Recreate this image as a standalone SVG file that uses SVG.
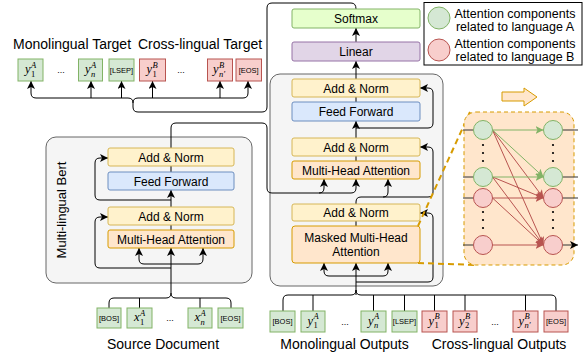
<svg xmlns="http://www.w3.org/2000/svg" width="587" height="358" viewBox="0 0 587 358">
<defs>
<marker id="ak" markerUnits="userSpaceOnUse" markerWidth="9" markerHeight="8" refX="8" refY="4" orient="auto"><path d="M0,0 L8,4 L0,8 L2,4 z" fill="#000"/></marker>
<marker id="ag" markerUnits="userSpaceOnUse" markerWidth="9" markerHeight="8" refX="8" refY="4" orient="auto"><path d="M0,0 L8,4 L0,8 L2,4 z" fill="#82b366"/></marker>
<marker id="ar" markerUnits="userSpaceOnUse" markerWidth="9" markerHeight="8" refX="8" refY="4" orient="auto"><path d="M0,0 L8,4 L0,8 L2,4 z" fill="#b85450"/></marker>
<style>
.panel{fill:#f5f5f5;stroke:#666;stroke-width:1}
.an{fill:#fff2cc;stroke:#d6b656}
.ff{fill:#dae8fc;stroke:#6c8ebf}
.mha{fill:#ffe6cc;stroke:#d79b00}
.lin{fill:#e1d5e7;stroke:#9673a6}
.sm{fill:#e6ffcc;stroke:#82b366}
.tg{fill:#d5e8d4;stroke:#82b366}
.tr{fill:#f8cecc;stroke:#b85450}
.lbl{font-family:"Liberation Sans",Arial,sans-serif;font-size:12px;fill:#000;text-anchor:middle}
.big{font-family:"Liberation Sans",Arial,sans-serif;font-size:14px;fill:#000}
.leg{font-family:"Liberation Sans",Arial,sans-serif;font-size:12.5px;fill:#000;text-anchor:middle}
.tok{font-family:"Liberation Sans",Arial,sans-serif;font-size:7.5px;fill:#000;text-anchor:middle}
.dots{font-family:"Liberation Sans",Arial,sans-serif;font-size:9px;fill:#000;text-anchor:middle}
.mi{font-family:"Liberation Serif","Times New Roman",serif;font-style:italic;font-size:12.5px;fill:#000}
.sc{font-size:8.5px}
.up{font-style:normal}
.c{fill:none;stroke:#000;stroke-width:1}
.ca{fill:none;stroke:#000;stroke-width:1;marker-end:url(#ak)}
.dash{fill:none;stroke:#d79b00;stroke-width:2;stroke-dasharray:6 4}
.eg{fill:none;stroke:#82b366;stroke-width:1;marker-end:url(#ag)}
.er{fill:none;stroke:#b85450;stroke-width:1;marker-end:url(#ar)}
.dk{fill:none;stroke:#333;stroke-width:1}
.dka{fill:none;stroke:#333;stroke-width:1;marker-end:url(#ak)}
</style>
</defs>

<g id="encoder-panel">
<rect class="panel" x="46" y="137" width="206" height="146" rx="10"/>
<text class="big" transform="translate(66,210) rotate(-90)" text-anchor="middle" style="font-size:13px">Multi-lingual Bert</text>
</g>
<g id="decoder-panel">
<rect class="panel" x="270" y="74" width="173" height="212" rx="10"/>
</g>

<g id="connectors">
<!-- softmax output to targets -->
<path class="c" d="M356,9 Q356,3 351,3 H272 Q267,3 267,8 V107 Q267,112 262,112 H138 Q133,112 133,107 V103"/>
<path class="ca" d="M133,103 Q133,98 128,98 H36 Q31,98 31,93 V81"/>
<path class="ca" d="M133,103 Q133,98 138,98 H243 Q248,98 248,93 V81"/>
<path class="ca" d="M91,98 V81"/>
<path class="ca" d="M121.5,98 V81"/>
<path class="ca" d="M152.5,98 V81"/>
<path class="ca" d="M220,98 V81"/>
<!-- source input -->
<path class="c" d="M171,293 Q171,298 166,298 H114 Q109,298 109,303 V308"/>
<path class="c" d="M171,293 Q171,298 176,298 H226 Q231,298 231,303 V308"/>
<path class="c" d="M139.5,298 V308"/>
<path class="c" d="M200,298 V308"/>
<path class="ca" d="M171,293 V248"/>
<path class="ca" d="M171,264 H144 Q139,264 139,259 V248"/>
<path class="ca" d="M171,264 H198 Q203,264 203,259 V248"/>
<path class="ca" d="M171,268 H100 Q95,268 95,263 V222 Q95,217 100,217 H108"/>
<path class="c" d="M171,225 V230"/>
<path class="ca" d="M171,207 V190"/>
<path class="ca" d="M171,200 H100 Q95,200 95,195 V163 Q95,158 100,158 H108"/>
<path class="c" d="M171,166 V172"/>
<!-- encoder output to decoder cross attention -->
<path class="ca" d="M171,148 V128 Q171,123 176,123 H262 Q267,123 267,128 V188 Q267,193 272,193 H319 Q324,193 324,188 V179"/>
<path class="ca" d="M319,193 H351 Q356,193 356,188 V179"/>
<!-- decoder -->
<path class="ca" d="M356,295 V263"/>
<path class="ca" d="M356,276 H329 Q324,276 324,271 V263"/>
<path class="ca" d="M356,276 H383 Q388,276 388,271 V263"/>
<path class="ca" d="M356,282 H428 Q433,282 433,277 V218 Q433,213 428,213 H420"/>
<path class="c" d="M356,221 V226"/>
<path class="ca" d="M356,204 V202 Q356,197 361,197 H428 Q433,197 433,192 V152 Q433,147 428,147 H420"/>
<path class="ca" d="M383,197 Q388,197 388,192 V179"/>
<path class="c" d="M356,156 V161"/>
<path class="ca" d="M356,138 V121"/>
<path class="ca" d="M356,128 H428 Q433,128 433,123 V93 Q433,88 428,88 H420"/>
<path class="c" d="M356,97 V102"/>
<path class="ca" d="M356,79 V61"/>
<path class="ca" d="M356,42 V28"/>
<!-- outputs brace -->
<path class="c" d="M356,290 Q356,295 351,295 H288 Q283,295 283,300 V311"/>
<path class="c" d="M356,290 Q356,295 361,295 H551 Q556,295 556,300 V311"/>
<path class="c" d="M313,295 V311 M373.5,295 V311 M404.5,295 V311 M434.5,295 V311 M465,295 V311 M525.5,295 V311"/>
<!-- zoom dashed lines -->
<path class="dash" d="M418,226 L470,112"/>
<path class="dash" d="M418,263 L477,265"/>
</g>

<g id="enc-addnorm2"><rect class="an" x="108" y="148" width="126" height="18" rx="2"/><text class="lbl" x="171" y="161.5">Add &amp; Norm</text></g>
<g id="enc-ff"><rect class="ff" x="108" y="172" width="126" height="18" rx="2"/><text class="lbl" x="171" y="185.5">Feed Forward</text></g>
<g id="enc-addnorm1"><rect class="an" x="108" y="207" width="126" height="18" rx="2"/><text class="lbl" x="171" y="220.5">Add &amp; Norm</text></g>
<g id="enc-mha"><rect class="mha" x="108" y="230" width="126" height="18" rx="2"/><text class="lbl" x="171" y="243.5">Multi-Head Attention</text></g>

<g id="dec-softmax"><rect class="sm" x="292" y="9" width="128" height="19" rx="2"/><text class="lbl" x="356" y="22.5">Softmax</text></g>
<g id="dec-linear"><rect class="lin" x="292" y="42" width="128" height="19" rx="2"/><text class="lbl" x="356" y="55.5">Linear</text></g>
<g id="dec-addnorm3"><rect class="an" x="292" y="79" width="128" height="18" rx="2"/><text class="lbl" x="356" y="92.5">Add &amp; Norm</text></g>
<g id="dec-ff"><rect class="ff" x="292" y="102" width="128" height="19" rx="2"/><text class="lbl" x="356" y="115.5">Feed Forward</text></g>
<g id="dec-addnorm2"><rect class="an" x="292" y="138" width="128" height="18" rx="2"/><text class="lbl" x="356" y="151.5">Add &amp; Norm</text></g>
<g id="dec-mha"><rect class="mha" x="292" y="161" width="128" height="18" rx="2"/><text class="lbl" x="356" y="174.5">Multi-Head Attention</text></g>
<g id="dec-addnorm1"><rect class="an" x="292" y="204" width="128" height="17" rx="2"/><text class="lbl" x="356" y="217">Add &amp; Norm</text></g>
<g id="dec-masked"><rect class="mha" x="292" y="226" width="128" height="37" rx="3"/><text class="lbl" x="356" y="242">Masked Multi-Head</text><text class="lbl" x="356" y="256">Attention</text></g>

<g id="legend">
<rect x="424" y="2.5" width="158" height="62.5" fill="none" stroke="#000"/>
<circle cx="439" cy="18" r="11" fill="#d5e8d4" stroke="#82b366"/>
<circle cx="439" cy="50" r="11" fill="#f8cecc" stroke="#b85450"/>
<text class="leg" x="515" y="17.5">Attention components</text>
<text class="leg" x="515" y="31">related to language A</text>
<text class="leg" x="515" y="47.5">Attention components</text>
<text class="leg" x="515" y="61">related to language B</text>
</g>

<g id="zoom-arrow"><polygon points="502,92 524,92 524,88 537,97 524,106 524,101 502,101" fill="#ffe6cc" stroke="#d79b00"/></g>

<g id="attention-detail">
<rect x="464" y="112" width="110" height="153" rx="12" fill="#ffe6cc" stroke="#d79b00" stroke-dasharray="4 3"/>
<path class="dk" d="M463,130 H473.5 M463,177 H473.5 M463,198 H473.5 M463,245 H473.5"/>
<path class="dka" d="M562.5,130 H578 M562.5,177 H578 M562.5,198 H578 M562.5,245 H578"/>
<path class="er" d="M492.5,130 L543.5,198"/>
<path class="er" d="M492.5,130 L543.5,245"/>
<path class="er" d="M492.5,177 L543.5,198"/>
<path class="er" d="M492.5,177 L543.5,245"/>
<path class="er" d="M492.5,198 L543.5,198"/>
<path class="er" d="M492.5,198 L543.5,245"/>
<path class="er" d="M492.5,245 L543.5,245"/>
<path class="eg" d="M492.5,130 L543.5,130"/>
<path class="eg" d="M492.5,130 L543.5,177"/>
<path class="eg" d="M492.5,177 L543.5,177"/>
<g fill="#d5e8d4" stroke="#82b366"><circle cx="483" cy="130" r="9.5"/><circle cx="483" cy="177" r="9.5"/><circle cx="553" cy="130" r="9.5"/><circle cx="553" cy="177" r="9.5"/></g>
<g fill="#f8cecc" stroke="#b85450"><circle cx="483" cy="198" r="9.5"/><circle cx="483" cy="245" r="9.5"/><circle cx="553" cy="198" r="9.5"/><circle cx="553" cy="245" r="9.5"/></g>
<g fill="#000"><circle cx="483" cy="145" r="1.1"/><circle cx="483" cy="153" r="1.1"/><circle cx="483" cy="161" r="1.1"/><circle cx="553" cy="145" r="1.1"/><circle cx="553" cy="153" r="1.1"/><circle cx="553" cy="161" r="1.1"/><circle cx="483" cy="212" r="1.1"/><circle cx="483" cy="220" r="1.1"/><circle cx="483" cy="228" r="1.1"/><circle cx="553" cy="212" r="1.1"/><circle cx="553" cy="220" r="1.1"/><circle cx="553" cy="228" r="1.1"/></g>
</g>

<g id="target-labels">
<text class="big" x="13" y="49">Monolingual Target</text>
<text class="big" x="138" y="49">Cross-lingual Target</text>
</g>
<g id="target-tokens">
<g id="t-y1A"><rect class="tg" x="18" y="59" width="25" height="22"/><text class="mi" y="73"><tspan x="25">y</tspan><tspan class="sc" x="31" y="67.5">A</tspan><tspan class="sc up" x="31" y="76.5">1</tspan></text></g>
<text class="dots" x="61" y="73">...</text>
<g id="t-ynA"><rect class="tg" x="78.5" y="59" width="24" height="22"/><text class="mi" y="73"><tspan x="85">y</tspan><tspan class="sc" x="91" y="67.5">A</tspan><tspan class="sc" x="91" y="76.5">n</tspan></text></g>
<g id="t-lsep"><rect class="tg" x="109" y="59" width="25" height="22"/><text class="tok" x="121.5" y="72.5">[LSEP]</text></g>
<g id="t-y1B"><rect class="tr" x="139.5" y="59" width="26" height="22"/><text class="mi" y="73"><tspan x="146.5">y</tspan><tspan class="sc" x="152.5" y="67.5">B</tspan><tspan class="sc up" x="152.5" y="76.5">1</tspan></text></g>
<text class="dots" x="181" y="73">...</text>
<g id="t-ynB"><rect class="tr" x="207.5" y="59" width="25" height="22"/><text class="mi" y="73"><tspan x="213">y</tspan><tspan class="sc" x="219" y="67.5">B</tspan><tspan class="sc" x="219" y="76.5">n′</tspan></text></g>
<g id="t-eos"><rect class="tr" x="236" y="59" width="25.5" height="22"/><text class="tok" x="248.7" y="72.5">[EOS]</text></g>
</g>

<g id="source-tokens">
<g id="s-bos"><rect class="tg" x="97" y="308" width="24" height="20"/><text class="tok" x="109" y="320.5">[BOS]</text></g>
<g id="s-x1A"><rect class="tg" x="127" y="308" width="25" height="20"/><text class="mi" y="321"><tspan x="134">x</tspan><tspan class="sc" x="140" y="315.5">A</tspan><tspan class="sc up" x="140" y="324.5">1</tspan></text></g>
<text class="dots" x="170" y="321">...</text>
<g id="s-xnA"><rect class="tg" x="188" y="308" width="24" height="20"/><text class="mi" y="321"><tspan x="194.5">x</tspan><tspan class="sc" x="200.5" y="315.5">A</tspan><tspan class="sc" x="200.5" y="324.5">n</tspan></text></g>
<g id="s-eos"><rect class="tg" x="218" y="308" width="25" height="20"/><text class="tok" x="230.5" y="320.5">[EOS]</text></g>
<text class="big" x="163" y="348.5" text-anchor="middle">Source Document</text>
</g>

<g id="output-tokens">
<g id="o-bos"><rect class="tg" x="270" y="311" width="25" height="21"/><text class="tok" x="282.5" y="324">[BOS]</text></g>
<g id="o-y1A"><rect class="tg" x="301" y="311" width="24" height="21"/><text class="mi" y="324.5"><tspan x="307.5">y</tspan><tspan class="sc" x="313.5" y="319">A</tspan><tspan class="sc up" x="313.5" y="328">1</tspan></text></g>
<text class="dots" x="345" y="324.5">...</text>
<g id="o-ynA"><rect class="tg" x="361" y="311" width="25" height="21"/><text class="mi" y="324.5"><tspan x="368">y</tspan><tspan class="sc" x="374" y="319">A</tspan><tspan class="sc" x="374" y="328">n</tspan></text></g>
<g id="o-lsep"><rect class="tg" x="392" y="311" width="25" height="21"/><text class="tok" x="404.5" y="324">[LSEP]</text></g>
<g id="o-y1B"><rect class="tr" x="422" y="311" width="25" height="21"/><text class="mi" y="324.5"><tspan x="428.5">y</tspan><tspan class="sc" x="434.5" y="319">B</tspan><tspan class="sc up" x="434.5" y="328">1</tspan></text></g>
<g id="o-y2B"><rect class="tr" x="453" y="311" width="24" height="21"/><text class="mi" y="324.5"><tspan x="459">y</tspan><tspan class="sc" x="465" y="319">B</tspan><tspan class="sc up" x="465" y="328">2</tspan></text></g>
<text class="dots" x="495" y="324.5">...</text>
<g id="o-ynB"><rect class="tr" x="513" y="311" width="25" height="21"/><text class="mi" y="324.5"><tspan x="518.5">y</tspan><tspan class="sc" x="524.5" y="319">B</tspan><tspan class="sc" x="524.5" y="328">n′</tspan></text></g>
<g id="o-eos"><rect class="tr" x="544" y="311" width="24" height="21"/><text class="tok" x="556" y="324">[EOS]</text></g>
<text class="big" x="344.5" y="348.5" text-anchor="middle">Monolingual Outputs</text>
<text class="big" x="499" y="348.5" text-anchor="middle">Cross-lingual Outputs</text>
</g>
</svg>
